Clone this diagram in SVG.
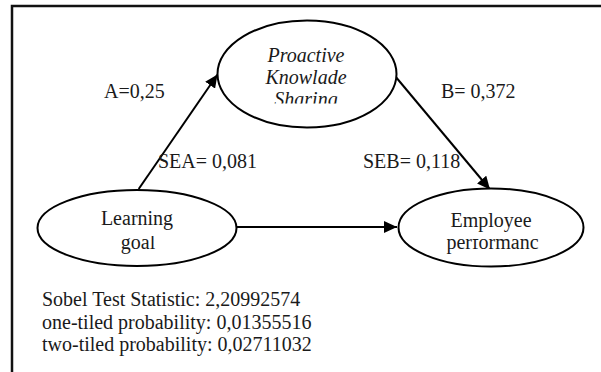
<svg xmlns="http://www.w3.org/2000/svg" width="601" height="372" viewBox="0 0 601 372">
<style>
text{font-family:"Liberation Serif","Times New Roman",serif;font-size:20px;fill:#1a1a1a}
.c{text-anchor:middle}
.i{font-style:italic}
.n{fill:#fff;stroke:#000;stroke-width:2}
.e{stroke:#000;stroke-width:2;fill:none;marker-end:url(#ah)}
</style>
<defs>
<marker id="ah" markerUnits="userSpaceOnUse" markerWidth="14" markerHeight="12" refX="13" refY="6" orient="auto">
<path d="M0,0 L13,6 L0,12 Z" fill="#000"/>
</marker>
<clipPath id="cpTop"><rect x="200" y="20" width="220" height="83.5"/></clipPath>
<clipPath id="cpGoal"><rect x="0" y="236" width="300" height="40"/></clipPath>
<clipPath id="cpPerf"><rect x="300" y="239" width="301" height="40"/></clipPath>
</defs>
<rect width="601" height="372" fill="#fff"/>
<path d="M12,372 V6 H601" fill="none" stroke="#111" stroke-width="2.5"/>
<g id="connectors">
<line class="e" x1="138.7" y1="189" x2="217.5" y2="74.5"/>
<line class="e" x1="395" y1="76" x2="490" y2="189.5"/>
<line class="e" x1="236" y1="227" x2="397" y2="227"/>
</g>
<g id="node-pks">
<ellipse class="n" cx="307" cy="74" rx="89.5" ry="53.5"/>
<g clip-path="url(#cpTop)">
<text class="c i" x="306" y="62">Proactive</text>
<text class="c i" x="306" y="84">Knowlade</text>
<text class="c i" x="306" y="106">Sharing</text>
</g>
</g>
<g id="node-lg">
<ellipse class="n" cx="137" cy="228" rx="99.5" ry="38"/>
<text class="c" x="137" y="225">Learning</text>
<g clip-path="url(#cpGoal)"><text class="c" x="138" y="248.5">goal</text></g>
</g>
<g id="node-ep">
<ellipse class="n" cx="491" cy="227.5" rx="92.5" ry="39"/>
<text class="c" x="491" y="226.5">Employee</text>
<g clip-path="url(#cpPerf)"><text class="c" x="492.5" y="248.5">performanc</text></g>
</g>
<g id="labels">
<text x="104" y="98">A=0,25</text>
<text x="441" y="98">B= 0,372</text>
<text x="158" y="168">SEA= 0,081</text>
<text x="363" y="168">SEB= 0,118</text>
<text x="42" y="306">Sobel Test Statistic: 2,20992574</text>
<text x="42" y="328.5">one-tiled probability: 0,01355516</text>
<text x="42" y="351">two-tiled probability: 0,02711032</text>
</g>
</svg>
